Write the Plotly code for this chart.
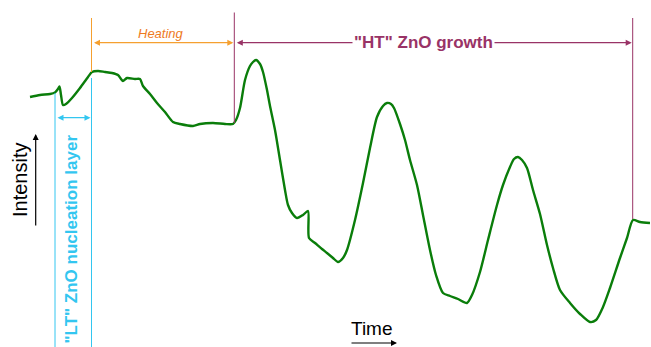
import plotly.graph_objects as go

# Time (arbitrary units) and intensity (arbitrary units)
time = [30, 40, 50, 55, 58, 59.5, 61, 63, 66, 72, 80, 88, 92, 98, 105, 112, 118, 121, 123, 127, 135,
        140, 143, 150, 157, 165, 173, 180, 193, 200, 213, 225, 233, 236, 240, 245, 250, 253, 256,
        260, 263, 267, 270, 275, 280, 285, 288, 292, 297, 303, 308, 309, 315, 322, 327, 333, 338,
        343, 347, 355, 363, 370, 377, 383, 387, 391, 394, 400, 405, 410, 417, 423, 430, 436, 443,
        450, 458, 467, 472, 480, 488, 497, 503, 510, 514, 518, 522, 527, 533, 540, 547, 553, 560,
        570, 580, 590, 596, 603, 610, 620, 627, 633, 640, 650]
intensity = [250, 252, 253, 254.5, 258, 260.5, 252, 242, 243, 249, 259, 270, 275, 276, 275, 274,
             272, 268, 266, 269, 268, 268, 261, 253, 244, 235, 225, 223, 221, 223, 224, 223, 223, 227,
             239, 267, 281, 285, 287, 283, 275, 257, 241, 217, 187, 157, 142, 134, 129, 132, 136,
             109, 104, 98, 94, 89, 85, 89, 97, 127, 164, 199, 230, 241, 244, 243, 239, 223, 207,
             187, 162, 132, 97, 72, 54, 51, 48, 44, 52, 75, 107, 142, 162, 180, 188, 190, 187, 179,
             157, 133, 102, 79, 57, 44, 33, 25, 27, 40, 59, 89, 109, 127, 125, 124]

# phase boundaries (time units)
lt_start, lt_end = 55, 91.5
heat_end = 234.3
ht_end = 632.7

labels = {
    "heating": "Heating",
    "ht": "\"HT\" ZnO growth",
    "lt": "\"LT\" ZnO nucleation layer",
    "x": "Time",
    "y": "Intensity",
}

GREEN = "#0a7d0a"
CYAN = "#33c6f0"
ORANGE = "#f5a030"
ORANGE_TXT = "#ee7a1e"
PURPLE = "#993366"
FONT = "Liberation Sans, Arial, sans-serif"

fig = go.Figure()
fig.add_trace(go.Scatter(x=time, y=intensity, mode="lines",
                         line=dict(color=GREEN, width=2.4, shape="spline", smoothing=0.7),
                         hoverinfo="skip", showlegend=False))

shapes = []
# vertical guide lines
shapes.append(dict(type="line", xref="x", yref="y", x0=lt_start, x1=lt_start, y0=254, y1=0,
                   line=dict(color=CYAN, width=1)))
shapes.append(dict(type="line", xref="x", yref="y", x0=lt_end, x1=lt_end, y0=269, y1=0,
                   line=dict(color=CYAN, width=1)))
shapes.append(dict(type="line", xref="x", yref="y", x0=lt_end, x1=lt_end, y0=329, y1=275,
                   line=dict(color=ORANGE, width=1)))
shapes.append(dict(type="line", xref="x", yref="y", x0=heat_end, x1=heat_end, y0=334.5, y1=224,
                   line=dict(color=PURPLE, width=1)))
shapes.append(dict(type="line", xref="x", yref="y", x0=ht_end, x1=ht_end, y0=329, y1=128,
                   line=dict(color=PURPLE, width=1)))

annotations = []


def double_arrow(x0, x1, y, color):
    annotations.append(dict(x=x1, y=y, ax=x0, ay=y, xref="x", yref="y", axref="x", ayref="y",
                            text="", showarrow=True, arrowhead=2, startarrowhead=2,
                            arrowside="end+start", arrowsize=1, arrowwidth=1.2,
                            arrowcolor=color))


double_arrow(lt_start + 1, lt_end - 1, 229.3, CYAN)
double_arrow(lt_end + 1, heat_end - 1, 304.3, ORANGE)
double_arrow(heat_end + 1, ht_end - 1, 304.3, PURPLE)

# single arrows for axes
annotations.append(dict(x=35.7, y=213, ax=35.7, ay=120, xref="x", yref="y", axref="x", ayref="y",
                        text="", showarrow=True, arrowhead=2, arrowsize=1, arrowwidth=1.2,
                        arrowcolor="black"))
annotations.append(dict(x=397, y=4, ax=350, ay=4, xref="x", yref="y", axref="x", ayref="y",
                        text="", showarrow=True, arrowhead=2, arrowsize=1, arrowwidth=1.2,
                        arrowcolor="black"))

annotations.append(dict(x=161, y=314, xref="x", yref="y", text="<i>" + labels["heating"] + "</i>",
                        showarrow=False, font=dict(family=FONT, size=13, color=ORANGE_TXT)))
annotations.append(dict(x=423, y=304.5, xref="x", yref="y", text="<b>" + labels["ht"] + "</b>",
                        showarrow=False, bgcolor="white", borderpad=1,
                        font=dict(family=FONT, size=17, color=PURPLE)))
annotations.append(dict(x=70.5, y=108, xref="x", yref="y", text="<b>" + labels["lt"] + "</b>",
                        showarrow=False, textangle=-90,
                        font=dict(family=FONT, size=17, color=CYAN)))
annotations.append(dict(x=20, y=167, xref="x", yref="y", text=labels["y"],
                        showarrow=False, textangle=-90,
                        font=dict(family=FONT, size=20, color="black")))
annotations.append(dict(x=372, y=19, xref="x", yref="y", text=labels["x"],
                        showarrow=False,
                        font=dict(family=FONT, size=19, color="black")))

fig.update_layout(
    width=651, height=347,
    margin=dict(l=0, r=0, t=0, b=0),
    paper_bgcolor="white", plot_bgcolor="white",
    xaxis=dict(range=[0, 651], visible=False, fixedrange=True),
    yaxis=dict(range=[0, 347], visible=False, fixedrange=True),
    shapes=shapes, annotations=annotations,
)

fig.write_html("out.html")
